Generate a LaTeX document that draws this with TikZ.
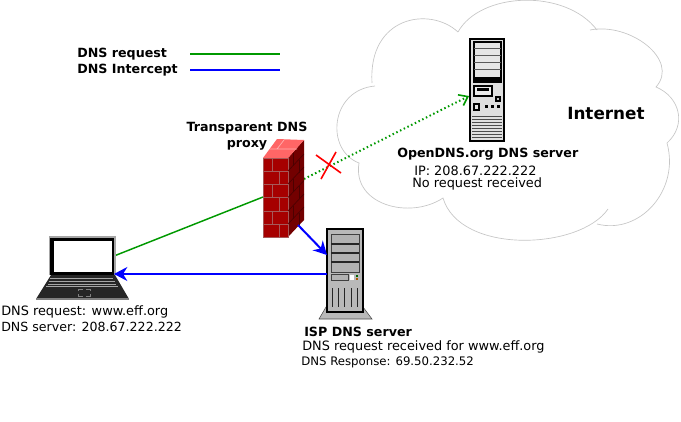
\documentclass[tikz,border=0pt]{standalone}
\usepackage{fontspec}
\setmainfont{DejaVu Sans}
\usetikzlibrary{arrows.meta}

\begin{document}
\begin{tikzpicture}[x=0.75pt,y=-0.75pt,font=\fontsize{9.65}{11}\selectfont]
        \tikzset{label/.style={anchor=west, inner sep=0pt}}
        \tikzset{title/.style={label, font=\fontsize{9.5}{11}\selectfont\bfseries}}
        \tikzset{request/.style={draw=green!60!black, line width=1.1pt}}
        \tikzset{intercept/.style={draw=blue, line width=1.5pt, -{Stealth[length=10pt,width=10.5pt]}}}
        \useasboundingbox (0,0) rectangle (681,421);
        % cloud
        \draw[gray!45, line width=0.5pt, fill=white] (458,32) .. controls (480,-8) and (565,-12) .. (597,30)
            (590,30) .. controls (630,22) and (680,60) .. (656,87)
            .. controls (680,97) and (687,125) .. (667,143)
            .. controls (680,190) and (640,235) .. (597,224)
            (608,209) .. controls (580,250) and (460,255) .. (443,198)
            .. controls (410,220) and (352,205) .. (359,163)
            .. controls (325,150) and (330,90) .. (375,86)
            (372,83) .. controls (368,16) and (430,6) .. (458,32);
        \node[title, font=\fontsize{12.6}{14}\selectfont\bfseries] (inet) at (567,113) {Internet};
        % legend
        \node[title] (reqlabel) at (77,54) {DNS request};
        \node[title] (intlabel) at (77,70) {DNS Intercept};
        \coordinate (reqa) at (190,54);
        \coordinate (reqb) at (280,54);
        \coordinate (inta) at (190,70);
        \coordinate (intb) at (280,70);
        \draw[request] (reqa) -- (reqb);
        \draw[draw=blue, line width=1.1pt] (inta) -- (intb);
        % anchors of the connectors
        \coordinate (laptop) at (114,256);
        \coordinate (laptopin) at (114,274);
        \coordinate (proxyin) at (263,197);
        \coordinate (proxyout) at (304,179);
        \coordinate (proxyisp) at (298,225);
        \coordinate (ispin) at (327,255);
        \coordinate (ispout) at (327,274);
        \coordinate (open) at (469,96);
        \draw[request] (laptop) -- (proxyin);
        \draw[request, dotted, line width=1.5pt, -{Straight Barb[length=6pt,width=9pt,line width=1.2pt]}] (proxyout) -- (open);
        % laptop
        \fill[black!85] (51,275) -- (115,275) -- (129,299) -- (36,299) -- cycle;
        \draw[gray, line width=0.8pt] (36,299) -- (129,299);
        \draw[gray!70, line width=0.8pt, fill=black] (50,275) -- (50,237) -- (115,237) -- (115,275);
        \fill[black] (50,238) rectangle (114,275);
        \draw[black, fill=white, line width=0.3pt] (53,240) rectangle (112,272);
        \draw[gray!70, line width=0.5pt] (50,278) -- (113,278) (49,281) -- (115,281) (48,284) -- (116,284) (46,286) -- (118,286);
        \draw[gray, line width=0.5pt] (78,291) -- (78,289) -- (83,289) (86,289) -- (90,289) -- (90,291) (78,294) -- (78,296) -- (83,296) (86,296) -- (90,296) -- (90,294);
        % firewall
        \fill[red!65!black] (263,158) rectangle (288,237);
        \fill[red!45!black] (288,158) -- (304,140) -- (304,220) -- (288,237) -- cycle;
        \fill[red!60!white] (263,158) -- (277,139) -- (304,140) -- (288,158) -- cycle;
        \draw[red!30!gray, line width=0.5pt] (263,158) -- (288,158) -- (288,237) -- (263,237) -- cycle;
        \foreach \y in {171,184,197.5,211,224} {
            \draw[red!30!gray, line width=0.7pt] (263,\y) -- (288,\y);
            \draw[red!30!black, line width=0.5pt] (288,\y) -- (304,\y-17);
        }
        \foreach \y/\x in {158/272,171/279,184/272,197.5/279,211/272,224/279} {
            \draw[red!30!gray, line width=0.7pt] (\x,\y) -- (\x,\y+13);
        }
        \foreach \y/\s in {158/0,171/6,184/0,197.5/6,211/0,224/6} {
            \draw[red!30!black, line width=0.5pt] (293+\s,\y-5.5-\s) -- (293+\s,\y+7.5-\s);
        }
        \draw[red!30!white, line width=0.5pt] (270,149) -- (297,149) (277,149) -- (284,140);
        \draw[red, line width=1.2pt] (316,155) -- (341,173) (336,152) -- (321,179);
        % ISP DNS server
        \draw[gray!60!black, line width=0.4pt, fill=gray!55] (326,307) -- (363,307) -- (372,319) -- (319,319) -- cycle;
        \draw[black, line width=1pt, fill=gray!55] (327,229) rectangle (363,312);
        \draw[gray!50!black, line width=0.5pt, fill=gray!60] (331,234) rectangle (359,272);
        \draw[gray!30!black, line width=1pt] (331,244) -- (359,244) (331,253) -- (359,253) (331,262) -- (359,262);
        \draw[gray!50!black, line width=0.5pt, fill=gray!60] (331,274) rectangle (348,280);
        \fill[white] (350,275) rectangle (354,280);
        \fill[green!40!black] (356,275) rectangle (358,277);
        \fill[orange!70!black] (356,278) rectangle (358,280);
        \foreach \x in {332,338,344,351,357} {
            \draw[gray!30!black, line width=0.5pt] (\x,288) -- (\x,307);
        }
        \draw[intercept] (proxyisp) -- (ispin);
        \draw[intercept] (ispout) -- (laptopin);
        % OpenDNS server
        \draw[black, line width=1.4pt, fill=gray!25] (470,39) rectangle (504,141);
        \draw[black, line width=1.2pt, fill=gray!20] (474,42) rectangle (501,82);
        \draw[gray!70!black, line width=0.7pt] (474,48) -- (501,48) (474,55) -- (501,55) (474,62) -- (501,62) (474,69) -- (501,69);
        \fill[black] (474,77) rectangle (501,83);
        \draw[black, line width=1.2pt, fill=gray!15] (474,86) rectangle (492,96);
        \fill[black] (477,88) rectangle (489,90.5);
        \draw[black, line width=1pt, fill=gray!50] (496,97) rectangle (500,101);
        \draw[black, line width=1pt, fill=gray!20] (474,104) rectangle (479,110);
        \foreach \x in {485,491,497} {
            \fill[black] (\x,105) rectangle ++(3,3);
        }
        \foreach \y in {116,119,122,125,128,131,134,137} {
            \draw[gray!60!black, line width=0.7pt] (472,\y) -- (502,\y);
        }
        % texts
        \node[font=\fontsize{9.5}{12}\selectfont\bfseries, align=center, inner sep=0pt] (proxy) at (247,136) {Transparent DNS\\proxy};
        \node[title] (opendns) at (397,154) {OpenDNS.org DNS server};
        \node[label] (openip) at (414,171) {IP: 208.67.222.222};
        \node[label] (opennone) at (412,184) {No request received};
        \node[label] (laptopreq) at (1,312) {DNS request: www.eff.org};
        \node[label, font=\fontsize{9.45}{11}\selectfont] (laptopsrv) at (1,327) {DNS server: 208.67.222.222};
        \node[title] (isp) at (304,332) {ISP DNS server};
        \node[label] (ispreq) at (302,347) {DNS request received for www.eff.org};
        \node[label, font=\fontsize{8.8}{11}\selectfont] (isprsp) at (301,362) {DNS Response: 69.50.232.52};
    \end{tikzpicture}
\end{document}
